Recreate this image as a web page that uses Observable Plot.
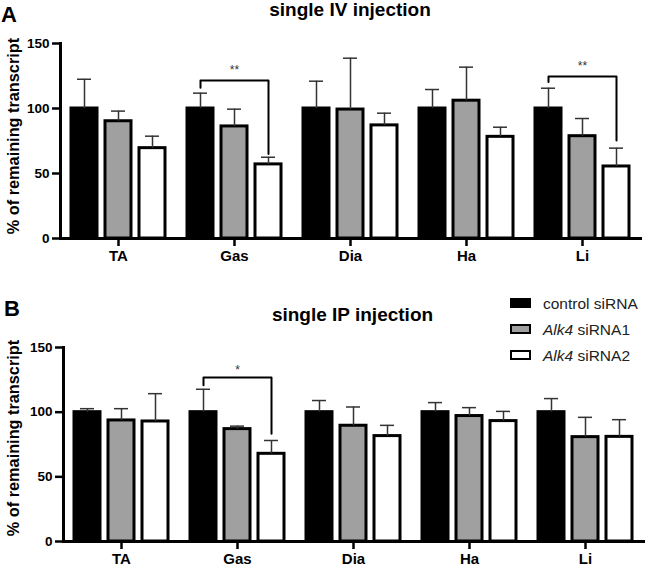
<!DOCTYPE html>
<html><head><meta charset="utf-8">
<script src="https://cdn.jsdelivr.net/npm/d3@7"></script>
<script src="https://cdn.jsdelivr.net/npm/@observablehq/plot@0.6"></script>
<style>
body{margin:0;background:#fff;}
#fig{position:relative;width:650px;height:567px;font-family:"Liberation Sans",Arial,Helvetica,sans-serif;color:#000;overflow:hidden;}
#fig svg{position:absolute;left:0;}
.t{position:absolute;white-space:nowrap;line-height:1;}
.sw{position:absolute;box-sizing:border-box;width:21px;height:10px;border:2px solid #000;}
</style></head><body><div id="fig"></div>
<script>
// ---- data ----
const tissues = ["TA", "Gas", "Dia", "Ha", "Li"];
const groups = ["control siRNA", "Alk4 siRNA1", "Alk4 siRNA2"];
const fills = ["#000000", "#a0a0a0", "#ffffff"];
const yTicks = [0, 50, 100, 150];

// single IV injection (mean, upper error)
const ivControl = [100, 100, 100, 100, 100];
const ivControlErr = [22.5, 11.8, 21, 14.6, 15.6];
const ivSi1 = [90.2, 86.2, 99.2, 106, 78.7];
const ivSi1Err = [7.8, 13.3, 39.5, 25.8, 13.6];
const ivSi2 = [69.5, 57, 87, 78.2, 55.4];
const ivSi2Err = [9.2, 5.5, 9.4, 7.4, 14.1];

// single IP injection
const ipControl = [100, 100, 100, 100, 100];
const ipControlErr = [2.7, 17.7, 9, 7.4, 10.5];
const ipSi1 = [93.6, 86.9, 89.5, 97, 80.7];
const ipSi1Err = [9.1, 2.3, 14.5, 6.5, 15.3];
const ipSi2 = [92.8, 67.8, 81.5, 93.1, 80.9];
const ipSi2Err = [21.5, 10.3, 8.3, 7.5, 13.3];

// significance brackets
const ivSigTissues = ["Gas", "Li"];
const ivSigTop = [121.5, 124.7];
const ivSigLeft = [116, 120.3];
const ivSigRight = [65, 75.3];
const ivSigLabel = ["**", "**"];
const ivSigLabelY = [129.3, 132.2];

const ipSigTissues = ["Gas"];
const ipSigTop = [126.8];
const ipSigLeft = [120.8];
const ipSigRight = [83.3];
const ipSigLabel = ["*"];
const ipSigLabelY = [132.7];

// ---- helpers ----
function rows(series) {
  const out = [];
  series.forEach(([means, errs], g) => {
    tissues.forEach((t, i) => out.push({tissue: t, group: groups[g], mean: means[i], upper: means[i] + errs[i]}));
  });
  return out;
}
function bracketPts(ts, top, left, right) {
  const out = [];
  ts.forEach((t, i) => {
    out.push({id: i, tissue: t, group: groups[0], y: left[i]});
    out.push({id: i, tissue: t, group: groups[0], y: top[i]});
    out.push({id: i, tissue: t, group: groups[2], y: top[i]});
    out.push({id: i, tissue: t, group: groups[2], y: right[i]});
  });
  return out;
}
function stars(ts, labels, ys) {
  return ts.map((t, i) => ({tissue: t, group: groups[1], y: ys[i], label: labels[i]}));
}

const FONT = '"Liberation Sans", Arial, Helvetica, sans-serif';

function panel({data, brackets, sig, height, marginTop, marginBottom, marginLeft, marginRight}) {
  return Plot.plot({
    width: 650, height, marginTop, marginBottom, marginLeft, marginRight,
    style: {fontFamily: FONT, background: "transparent", overflow: "visible"},
    fx: {domain: tissues, paddingInner: 0, paddingOuter: 0, axis: null, label: null},
    x: {domain: groups, paddingInner: 0.242, paddingOuter: 0.318, axis: null},
    y: {domain: [0, 150], axis: null},
    color: {domain: groups, range: fills},
    marks: [
      Plot.barY(data, {fx: "tissue", x: "group", y: "mean", fill: "group", stroke: "#000", strokeWidth: 3}),
      Plot.ruleX(data, {fx: "tissue", x: "group", y1: "mean", y2: "upper", stroke: "#333", strokeWidth: 1.5}),
      Plot.tickY(data, {fx: "tissue", x: "group", y: "upper", stroke: "#333", strokeWidth: 1.5, insetLeft: 6, insetRight: 6}),
      Plot.line(brackets, {fx: "tissue", x: "group", y: "y", z: "id", stroke: "#000", strokeWidth: 2}),
      Plot.text(sig, {fx: "tissue", x: "group", y: "y", text: "label", fontSize: 12, fill: "#333"}),
      Plot.axisY({ticks: yTicks, tickSize: 8, tickPadding: 3, fontSize: 13.5, fontWeight: "bold", fill: "#000", stroke: "#000", strokeWidth: 2.5, label: null}),
      Plot.axisFx({anchor: "bottom", tickSize: 8, tickPadding: 4, fontSize: 15, fontWeight: "bold", fill: "#000", stroke: "#000", strokeWidth: 2.5, label: null}),
      Plot.frame({anchor: "left", facet: "super", stroke: "#000", strokeWidth: 3}),
      Plot.frame({anchor: "bottom", facet: "super", stroke: "#000", strokeWidth: 3})
    ]
  });
}

const fig = document.getElementById("fig");

const A = panel({
  data: rows([[ivControl, ivControlErr], [ivSi1, ivSi1Err], [ivSi2, ivSi2Err]]),
  brackets: bracketPts(ivSigTissues, ivSigTop, ivSigLeft, ivSigRight),
  sig: stars(ivSigTissues, ivSigLabel, ivSigLabelY),
  height: 265, marginTop: 43, marginBottom: 27, marginLeft: 59, marginRight: 9
});
A.style.top = "0px";
fig.appendChild(A);

const B = panel({
  data: rows([[ipControl, ipControlErr], [ipSi1, ipSi1Err], [ipSi2, ipSi2Err]]),
  brackets: bracketPts(ipSigTissues, ipSigTop, ipSigLeft, ipSigRight),
  sig: stars(ipSigTissues, ipSigLabel, ipSigLabelY),
  height: 287, marginTop: 67, marginBottom: 26, marginLeft: 61, marginRight: 6
});
B.style.top = "280px";
fig.appendChild(B);

// text placed by baseline
function label(html, x, baseline, size, weight, anchor, color) {
  const d = document.createElement("div");
  d.className = "t";
  d.innerHTML = html;
  d.style.fontSize = size + "px";
  d.style.fontWeight = weight;
  d.style.color = color || "#000";
  d.style.top = (baseline - 0.86 * size) + "px";
  d.style.left = x + "px";
  if (anchor === "middle") d.style.transform = "translateX(-50%)";
  fig.appendChild(d);
  return d;
}
function vlabel(text, cx, cy, size) {
  const d = document.createElement("div");
  d.className = "t";
  d.textContent = text;
  d.style.fontSize = size + "px";
  d.style.fontWeight = "bold";
  d.style.left = cx + "px";
  d.style.top = cy + "px";
  d.style.transform = "translate(-50%,-50%) rotate(-90deg)";
  fig.appendChild(d);
}

label("A", 1, 23, 22, "bold");
label("B", 4, 316.5, 22, "bold");
label("single IV injection", 350, 16.5, 19, "bold", "middle");
label("single IP injection", 352.5, 321, 19, "bold", "middle");
vlabel("% of remaining transcript", 12.5, 136, 16.3);
vlabel("% of remaining transcript", 12.5, 438, 16.3);

// legend
const legendBase = [309, 335, 361];
groups.forEach((g, i) => {
  const s = document.createElement("div");
  s.className = "sw";
  s.style.left = "510px";
  s.style.top = (legendBase[i] - 11) + "px";
  s.style.background = fills[i];
  fig.appendChild(s);
  const html = g.replace("Alk4", "<i>Alk4</i>");
  label(html, 543, legendBase[i], 15.5, "normal", null, "#222");
});
</script></body></html>
